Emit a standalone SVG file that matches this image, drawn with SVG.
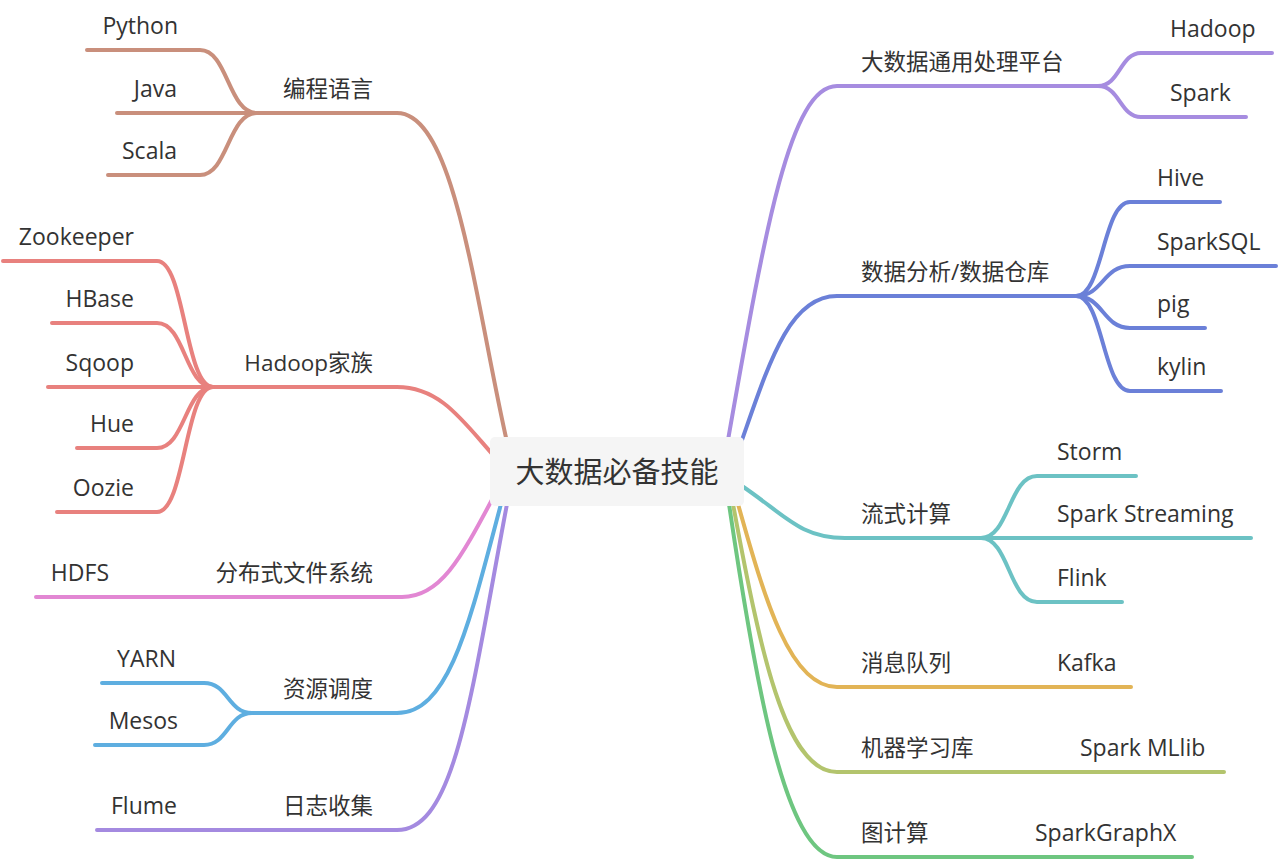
<svg xmlns="http://www.w3.org/2000/svg" width="1280" height="861" viewBox="0 0 1280 861">
<style>
.l{fill:none;stroke-width:4;stroke-linecap:round;stroke-linejoin:round}
.t{font-family:"Open Sans","Noto Sans CJK SC",sans-serif;font-size:23px;fill:#333}
.c{font-family:"Open Sans","Noto Sans CJK SC",sans-serif;font-size:22.5px;fill:#333}
.e{text-anchor:end}
.root{font-family:"Noto Sans CJK SC",sans-serif;font-size:29px;fill:#333;text-anchor:middle}
</style>
<rect width="1280" height="861" fill="#ffffff"/>
<g id="connectors">
<!-- left -->
<path class="l" stroke="#c98f7c" d="M507,442 C475,300 455,113 397,113 L257,113"/>
<path class="l" stroke="#c98f7c" d="M257,113 C228,113 228,50 200,50 L87,50"/>
<path class="l" stroke="#c98f7c" d="M257,113 L117,113"/>
<path class="l" stroke="#c98f7c" d="M257,113 C228,113 228,175 200,175 L108,175"/>

<path class="l" stroke="#e8817e" d="M494,456 C462,420 440,387 397,387 L213,387"/>
<path class="l" stroke="#e8817e" d="M213,387 C185,387 185,261 157,261 L3,261"/>
<path class="l" stroke="#e8817e" d="M213,387 C185,387 185,323 157,323 L52,323"/>
<path class="l" stroke="#e8817e" d="M213,387 L48,387"/>
<path class="l" stroke="#e8817e" d="M213,387 C185,387 185,448 157,448 L77,448"/>
<path class="l" stroke="#e8817e" d="M213,387 C185,387 185,512 157,512 L57,512"/>

<path class="l" stroke="#e287d3" d="M494,496 C460,560 440,597 402,597 L36,597"/>

<path class="l" stroke="#5eaee0" d="M501,504 C470,620 450,713 397,713 L252,713"/>
<path class="l" stroke="#5eaee0" d="M252,713 C228,713 228,683 204,683 L102,683"/>
<path class="l" stroke="#5eaee0" d="M252,713 C228,713 228,745 204,745 L95,745"/>

<path class="l" stroke="#a48ae0" d="M507,504 C470,700 455,830 397,830 L97,830"/>

<!-- right -->
<path class="l" stroke="#a68ce0" d="M728,440 C765,230 790,86 837,86 L1098,86"/>
<path class="l" stroke="#a68ce0" d="M1098,86 C1120,86 1120,53 1141,53 L1272,53"/>
<path class="l" stroke="#a68ce0" d="M1098,86 C1120,86 1120,117 1141,117 L1246,117"/>

<path class="l" stroke="#6b80d8" d="M742,440 C770,360 790,296 837,296 L1076,296"/>
<path class="l" stroke="#6b80d8" d="M1076,296 C1103,296 1103,202 1130,202 L1220,202"/>
<path class="l" stroke="#6b80d8" d="M1076,296 C1103,296 1103,266 1130,266 L1276,266"/>
<path class="l" stroke="#6b80d8" d="M1076,296 C1103,296 1103,328 1130,328 L1205,328"/>
<path class="l" stroke="#6b80d8" d="M1076,296 C1103,296 1103,391 1130,391 L1221,391"/>

<path class="l" stroke="#6cc2c4" d="M742,486 C785,515 800,538 845,538 L981,538"/>
<path class="l" stroke="#6cc2c4" d="M981,538 C1009,538 1009,476 1037,476 L1136,476"/>
<path class="l" stroke="#6cc2c4" d="M981,538 L1251,538"/>
<path class="l" stroke="#6cc2c4" d="M981,538 C1009,538 1009,602 1037,602 L1122,602"/>

<path class="l" stroke="#e2b456" d="M738,504 C765,600 790,687 837,687 L1131,687"/>
<path class="l" stroke="#b3c46d" d="M733,504 C760,650 785,772 837,772 L1224,772"/>
<path class="l" stroke="#6ec680" d="M729,504 C755,680 785,857 837,857 L1192,857"/>
</g>

<g id="root">
<rect x="490" y="437" width="254" height="69" rx="5" fill="#f5f5f5"/>
<text class="root" x="617" y="483">大数据必备技能</text>
</g>

<g id="n-biancheng"><text class="c e" x="373" y="97">编程语言</text></g>
<g id="n-python"><text class="t e" x="178" y="34">Python</text></g>
<g id="n-java"><text class="t e" x="177" y="97">Java</text></g>
<g id="n-scala"><text class="t e" x="177" y="159">Scala</text></g>

<g id="n-hadoopfamily"><text class="c e" x="373" y="371">Hadoop家族</text></g>
<g id="n-zookeeper"><text class="t e" x="134" y="245">Zookeeper</text></g>
<g id="n-hbase"><text class="t e" x="134" y="307">HBase</text></g>
<g id="n-sqoop"><text class="t e" x="134" y="371">Sqoop</text></g>
<g id="n-hue"><text class="t e" x="134" y="432">Hue</text></g>
<g id="n-oozie"><text class="t e" x="134" y="496">Oozie</text></g>

<g id="n-fs"><text class="c e" x="373" y="581">分布式文件系统</text></g>
<g id="n-hdfs"><text class="t e" x="109" y="581">HDFS</text></g>

<g id="n-res"><text class="c e" x="373" y="697">资源调度</text></g>
<g id="n-yarn"><text class="t e" x="176" y="667">YARN</text></g>
<g id="n-mesos"><text class="t e" x="178" y="729">Mesos</text></g>

<g id="n-log"><text class="c e" x="373" y="814">日志收集</text></g>
<g id="n-flume"><text class="t e" x="177" y="814">Flume</text></g>

<g id="n-platform"><text class="c" x="861" y="70">大数据通用处理平台</text></g>
<g id="n-hadoop"><text class="t" x="1170" y="37">Hadoop</text></g>
<g id="n-spark"><text class="t" x="1170" y="101">Spark</text></g>

<g id="n-dw"><text class="c" x="861" y="280">数据分析/数据仓库</text></g>
<g id="n-hive"><text class="t" x="1157" y="186">Hive</text></g>
<g id="n-sparksql"><text class="t" x="1157" y="250">SparkSQL</text></g>
<g id="n-pig"><text class="t" x="1157" y="312">pig</text></g>
<g id="n-kylin"><text class="t" x="1157" y="375">kylin</text></g>

<g id="n-stream"><text class="c" x="861" y="522">流式计算</text></g>
<g id="n-storm"><text class="t" x="1057" y="460">Storm</text></g>
<g id="n-sparkstreaming"><text class="t" x="1057" y="522">Spark Streaming</text></g>
<g id="n-flink"><text class="t" x="1057" y="586">Flink</text></g>

<g id="n-mq"><text class="c" x="861" y="671">消息队列</text></g>
<g id="n-kafka"><text class="t" x="1057" y="671">Kafka</text></g>

<g id="n-ml"><text class="c" x="861" y="756">机器学习库</text></g>
<g id="n-mllib"><text class="t" x="1080" y="756">Spark MLlib</text></g>

<g id="n-graph"><text class="c" x="861" y="841">图计算</text></g>
<g id="n-graphx"><text class="t" x="1035" y="841">SparkGraphX</text></g>
</svg>
